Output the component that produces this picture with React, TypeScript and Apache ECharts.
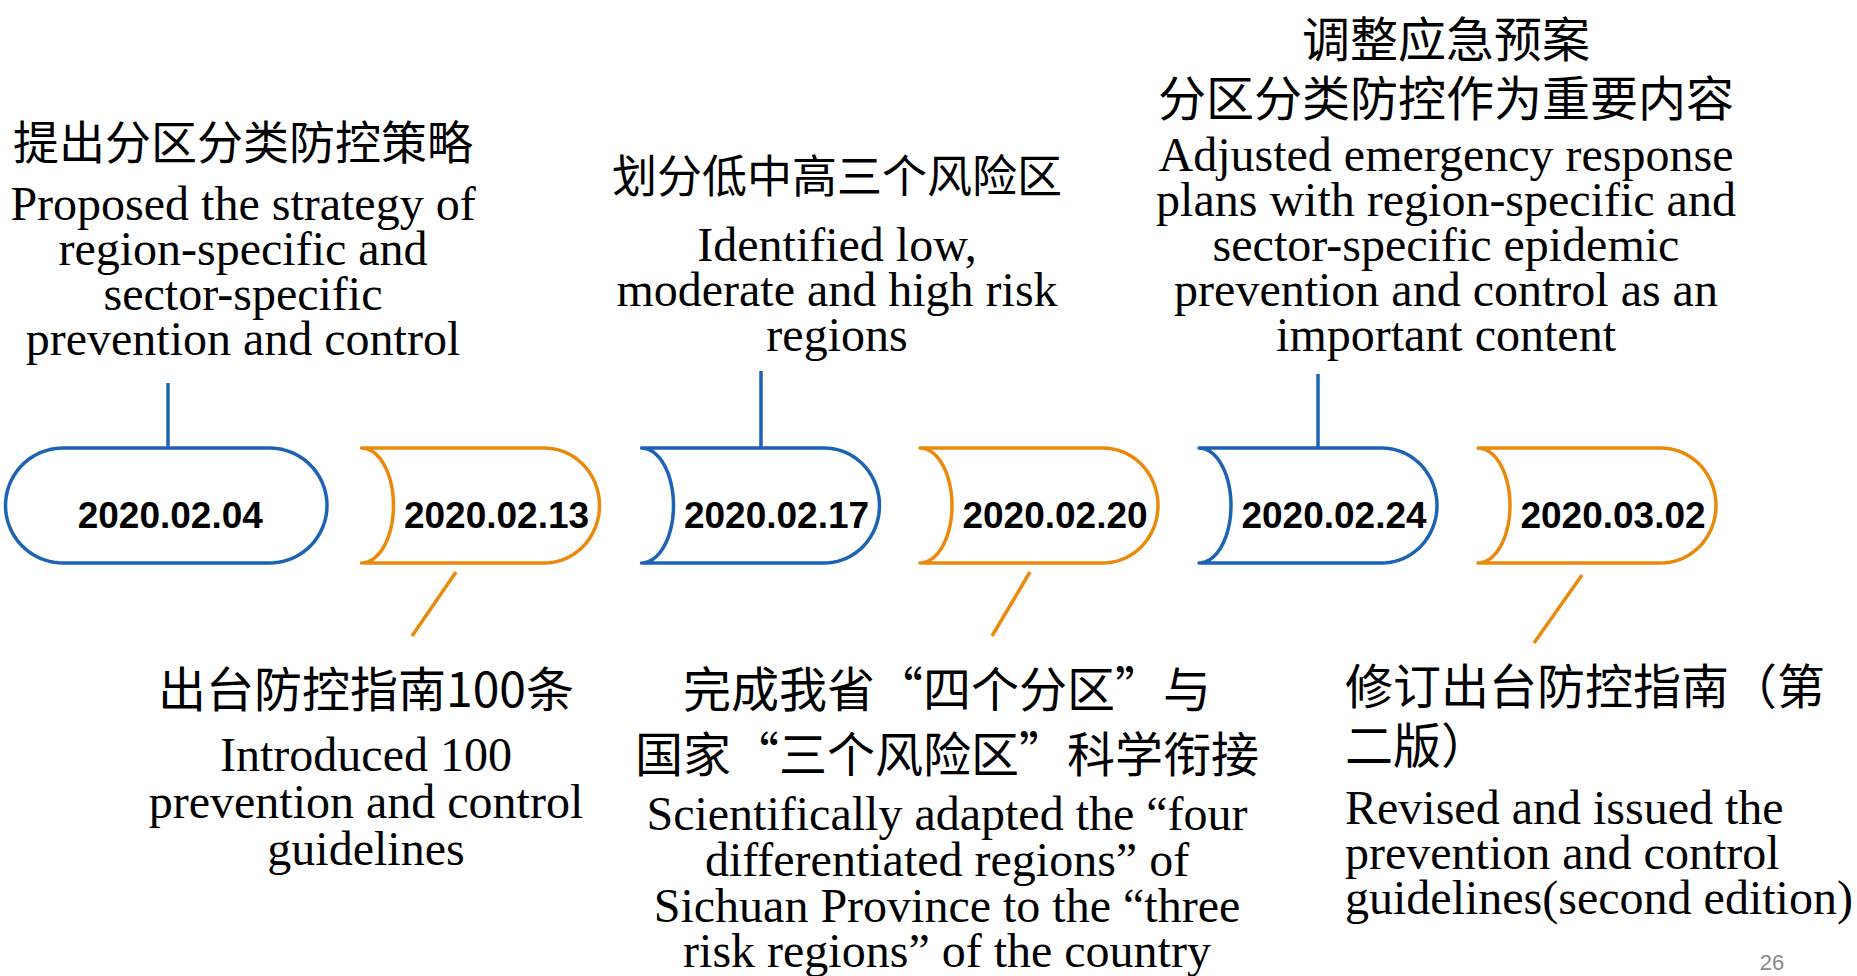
import React, { useEffect, useRef } from "react";
import * as echarts from "echarts";

// ---------- data ----------
const dates = ["2020.02.04", "2020.02.13", "2020.02.17", "2020.02.20", "2020.02.24", "2020.03.02"];
const topTitlesZh = ["提出分区分类防控策略", "划分低中高三个风险区", "调整应急预案\n分区分类防控作为重要内容"];
const topTextsEn = [
  "Proposed the strategy of\nregion-specific and\nsector-specific\nprevention and control",
  "Identified low,\nmoderate and high risk\nregions",
  "Adjusted emergency response\nplans with region-specific and\nsector-specific epidemic\nprevention and control as an\nimportant content",
];
const bottomTitlesZh = ["出台防控指南100条", "完成我省“四个分区”与\n国家“三个风险区”科学衔接", "修订出台防控指南（第\n二版）"];
const bottomTextsEn = [
  "Introduced 100\nprevention and control\nguidelines",
  "Scientifically adapted the “four\ndifferentiated regions” of\nSichuan Province to the “three\nrisk regions” of the country",
  "Revised and issued the\nprevention and control\nguidelines(second edition)",
];
const pageNumber = "26";

// ---------- layout & style ----------
const BLUE = "#1d63b3";
const ORANGE = "#e98a0d";
const ZH = '"Noto Sans CJK SC", "Noto Sans", sans-serif';
const EN = '"Liberation Serif", "Times New Roman", serif';
const SANS = '"Liberation Sans", Arial, sans-serif';

const Y_TOP = 448;
const Y_BOT = 563;
const CY = (Y_TOP + Y_BOT) / 2;
const RY = (Y_BOT - Y_TOP) / 2;
const LW = 3.5;

// shape x positions (tips of concave shapes)
const stadium = { x0: 5.5, x1: 327 };
const tips = [361.5, 641.5, 920, 1199, 1478];
const SHAPE_W = 238;
const CONCAVE = 32;
const RX_RIGHT = 55;

const topLayout = [
  { x: 243, zhY: 139, zhSize: 46, zhLH: 56, enTop: 180.5, enLH: 45, lineX: 168, lineY0: 383 },
  { x: 837, zhY: 173, zhSize: 45, zhLH: 56, enTop: 221.5, enLH: 45, lineX: 761, lineY0: 371 },
  { x: 1446, zhY: 6.5, zhSize: 48, zhLH: 59, enTop: 131.5, enLH: 45, lineX: 1318, lineY0: 374 },
];
const bottomLayout = [
  { x: 366, align: "center", zhTop: 656.5, zhLH: 58, enTop: 730.5, enLH: 47, line: [456, 572, 412, 636] },
  { x: 947, align: "center", zhTop: 653, zhLH: 65, enTop: 791, enLH: 45.7, line: [1030, 572, 992, 636] },
  { x: 1345, align: "left", zhTop: 653.5, zhLH: 59, enTop: 784.5, enLH: 45, line: [1582, 575, 1534, 643] },
];

function arcPts(cx: number, cy: number, rx: number, ry: number, a0: number, a1: number, n = 40) {
  const pts: number[][] = [];
  for (let i = 0; i <= n; i++) {
    const a = ((a0 + ((a1 - a0) * i) / n) * Math.PI) / 180;
    pts.push([cx + rx * Math.cos(a), cy + ry * Math.sin(a)]);
  }
  return pts;
}

function stadiumPoints() {
  const r = RY;
  return [
    ...arcPts(stadium.x1 - r, CY, r, r, -90, 90),
    ...arcPts(stadium.x0 + r, CY, r, r, 90, 270),
  ];
}

function concavePoints(t: number) {
  const right = t + SHAPE_W;
  return [
    [t, Y_TOP],
    ...arcPts(right - RX_RIGHT, CY, RX_RIGHT, RY, -90, 90),
    [t, Y_BOT],
    ...arcPts(t, CY, CONCAVE, RY, 90, -90),
  ];
}

function textEl(text: string, x: number, y: number, font: string, align: string, vAlign: string, lineHeight?: number, fill = "#000") {
  const style: any = {
    text,
    font,
    fill,
    align,
    textAlign: align,
    verticalAlign: vAlign,
    textVerticalAlign: vAlign,
  };
  if (lineHeight) style.lineHeight = lineHeight;
  return { type: "text", x, y, style, silent: true };
}

function buildElements() {
  const els: any[] = [];
  // shapes + date labels
  dates.forEach((d, i) => {
    const color = i % 2 === 0 ? BLUE : ORANGE;
    let pts: number[][];
    let tx: number;
    if (i === 0) {
      pts = stadiumPoints();
      tx = (stadium.x0 + stadium.x1) / 2 + 4;
    } else {
      const t = tips[i - 1];
      pts = concavePoints(t);
      tx = t + CONCAVE + (SHAPE_W - CONCAVE) / 2;
    }
    els.push({
      type: "polygon",
      shape: { points: pts },
      style: { fill: "#fff", stroke: color, lineWidth: LW, lineJoin: "round" },
      silent: true,
    });
    els.push(textEl(d, tx, 515, `bold 37px ${SANS}`, "center", "middle"));
  });

  // top events
  topTitlesZh.forEach((zh, i) => {
    const L = topLayout[i];
    const multi = zh.indexOf("\n") >= 0;
    els.push(
      textEl(zh, L.x, L.zhY, `${L.zhSize}px ${ZH}`, "center", multi ? "top" : "middle", multi ? L.zhLH : undefined)
    );
    els.push(textEl(topTextsEn[i], L.x, L.enTop, `48px ${EN}`, "center", "top", L.enLH));
    els.push({
      type: "line",
      shape: { x1: L.lineX, y1: L.lineY0, x2: L.lineX, y2: Y_TOP },
      style: { stroke: BLUE, lineWidth: LW },
      silent: true,
    });
  });

  // bottom events
  bottomTitlesZh.forEach((zh, i) => {
    const L = bottomLayout[i];
    els.push(textEl(zh, L.x, L.zhTop, `48px ${ZH}`, L.align, "top", L.zhLH));
    els.push(textEl(bottomTextsEn[i], L.x, L.enTop, `48px ${EN}`, L.align, "top", L.enLH));
    els.push({
      type: "line",
      shape: { x1: L.line[0], y1: L.line[1], x2: L.line[2], y2: L.line[3] },
      style: { stroke: ORANGE, lineWidth: LW },
      silent: true,
    });
  });

  els.push(textEl(pageNumber, 1772, 962, `22px ${SANS}`, "center", "middle", undefined, "#8a8a8a"));
  return els;
}

export default function App() {
  const ref = useRef<HTMLDivElement>(null);
  useEffect(() => {
    if (!ref.current) return;
    const chart = echarts.init(ref.current, undefined, { renderer: "svg" });
    chart.setOption({
      animation: false,
      backgroundColor: "#ffffff",
      graphic: { elements: buildElements() },
    });
    return () => chart.dispose();
  }, []);
  return (
    <div
      ref={ref}
      style={{ position: "absolute", left: 0, top: 0, width: 1857, height: 976, background: "#fff" }}
    />
  );
}
